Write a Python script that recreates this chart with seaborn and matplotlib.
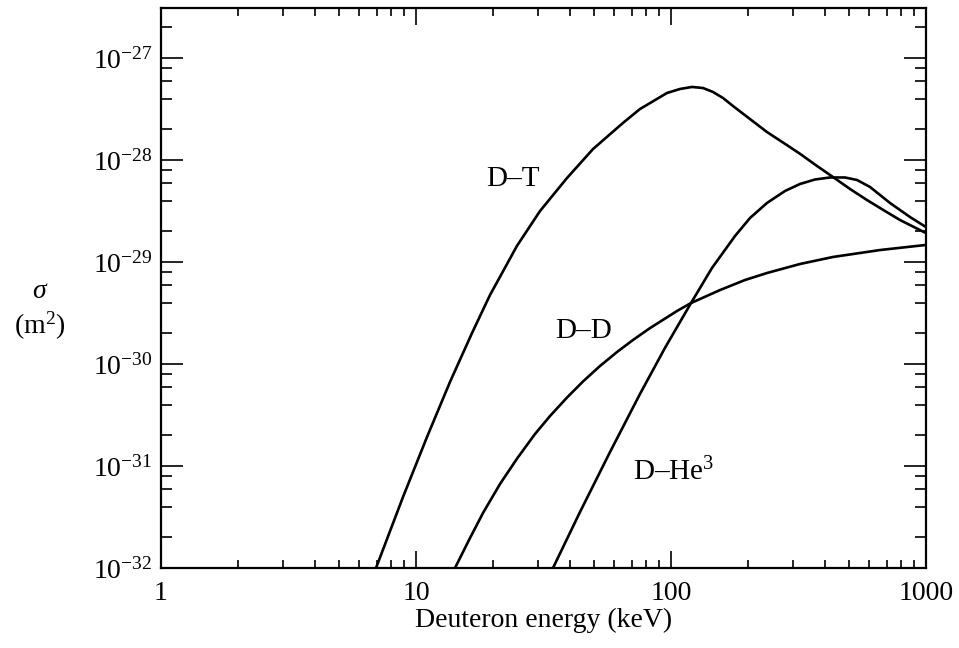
import matplotlib
matplotlib.use("Agg")
import matplotlib.pyplot as plt
import matplotlib.ticker as mticker
import numpy as np
import pandas as pd
import seaborn as sns

# ---- data (deuteron energy in keV, cross-section in m^2) ----
dt_energy = [6.969, 8.893, 11.04, 13.59, 16.58, 19.51, 24.89, 30.64, 39.10, 49.44,
             64.83, 75.56, 96.45, 108.5, 120.9, 133.5, 146.2, 160.0, 175.1, 204.1,
             237.9, 280.0, 320.6, 373.7, 431.8, 503.4, 586.9, 690.7, 790.8, 1000]
dt_sigma = [1.0e-32, 4.97e-32, 1.92e-31, 6.66e-31, 2.01e-30, 4.75e-30, 1.44e-29,
            3.16e-29, 6.66e-29, 1.28e-28, 2.31e-28, 3.16e-28, 4.54e-28, 4.97e-28,
            5.20e-28, 5.08e-28, 4.64e-28, 4.05e-28, 3.38e-28, 2.52e-28, 1.88e-28,
            1.44e-28, 1.15e-28, 8.74e-29, 6.81e-29, 5.20e-29, 4.05e-29, 3.16e-29,
            2.58e-29, 1.92e-29]

dd_energy = [14.22, 16.29, 18.31, 21.35, 24.89, 29.29, 33.54, 39.10, 45.17, 52.67,
             61.41, 70.96, 82.74, 105.6, 119.8, 155.7, 195.1, 237.9, 320.6, 431.8,
             660.0, 1000]
dd_sigma = [1.0e-32, 1.97e-32, 3.46e-32, 6.66e-32, 1.18e-31, 2.06e-31, 3.09e-31,
            4.69e-31, 6.74e-31, 9.56e-31, 1.31e-30, 1.72e-30, 2.25e-30, 3.31e-30,
            3.96e-30, 5.31e-30, 6.66e-30, 7.80e-30, 9.56e-30, 1.12e-29, 1.31e-29,
            1.47e-29]

dhe_energy = [34.45, 43.97, 57.65, 75.56, 94.73, 119.8, 144.8, 178.3, 204.1, 237.9,
              280.0, 320.6, 367.1, 420.3, 481.2, 536.3, 603.1, 722.5, 865.5, 1000]
dhe_sigma = [1.0e-32, 3.54e-32, 1.37e-31, 5.08e-31, 1.44e-30, 3.96e-30, 8.74e-30,
             1.80e-29, 2.70e-29, 3.79e-29, 4.97e-29, 5.82e-29, 6.44e-29, 6.74e-29,
             6.74e-29, 6.37e-29, 5.44e-29, 3.79e-29, 2.76e-29, 2.20e-29]

reactions = ["D–T", "D–D", "D–He³"]
x_ticks = [1, 10, 100, 1000]
x_tick_labels = ["1", "10", "100", "1000"]
y_ticks = [1e-32, 1e-31, 1e-30, 1e-29, 1e-28, 1e-27]
y_tick_labels = [r"$10^{-32}$", r"$10^{-31}$", r"$10^{-30}$", r"$10^{-29}$",
                 r"$10^{-28}$", r"$10^{-27}$"]

df = pd.concat([
    pd.DataFrame({"E": dt_energy, "sigma": dt_sigma, "reaction": reactions[0]}),
    pd.DataFrame({"E": dd_energy, "sigma": dd_sigma, "reaction": reactions[1]}),
    pd.DataFrame({"E": dhe_energy, "sigma": dhe_sigma, "reaction": reactions[2]}),
], ignore_index=True)

# ---- style ----
sns.set_theme(style="ticks")
plt.rcParams["font.family"] = ["Liberation Serif", "DejaVu Serif"]
plt.rcParams["mathtext.fontset"] = "custom"
plt.rcParams["mathtext.rm"] = "Liberation Serif"
plt.rcParams["mathtext.it"] = "Liberation Serif:italic"
plt.rcParams["mathtext.default"] = "regular"

fig = plt.figure(figsize=(9.59, 6.48), dpi=100)
ax = fig.add_axes([161 / 959, 1 - 568 / 648, 765 / 959, 560.5 / 648])
ax.set_xscale("log")
ax.set_yscale("log")

sns.lineplot(data=df, x="E", y="sigma", hue="reaction", units="reaction",
             estimator=None, sort=False, legend=False,
             palette={r: "black" for r in reactions}, linewidth=1.9, ax=ax)
for ln in ax.get_lines():
    ln.set_solid_joinstyle("round")
    ln.set_solid_capstyle("round")

ax.set_xlim(1, 1000)
ax.set_ylim(1e-32, 10 ** (-32 + 560.5 / 102))

ax.set_xticks(x_ticks)
ax.set_xticklabels(x_tick_labels)
ax.set_yticks(y_ticks)
ax.set_yticklabels(y_tick_labels)
ax.xaxis.set_minor_locator(mticker.LogLocator(base=10, subs=np.arange(2, 10), numticks=20))
ax.yaxis.set_minor_locator(mticker.LogLocator(base=10, subs=(2, 4, 6, 8), numticks=20))
ax.xaxis.set_minor_formatter(mticker.NullFormatter())
ax.yaxis.set_minor_formatter(mticker.NullFormatter())

for s in ax.spines.values():
    s.set_visible(True)
    s.set_linewidth(1.6)
    s.set_color("black")

ax.tick_params(axis="both", which="both", direction="in", top=True, right=True,
               colors="black", width=1.2, labelsize=20)
ax.tick_params(axis="y", which="major", length=16, pad=6)
ax.tick_params(axis="y", which="minor", length=8)
ax.tick_params(axis="x", which="major", length=12, pad=9)
ax.tick_params(axis="x", which="minor", length=5.5)

ax.set_xlabel("Deuteron energy (keV)", fontsize=20, color="black", labelpad=2)
ax.set_ylabel("")

fig.text(40 / 959, 1 - 292 / 648, r"$\sigma$", fontsize=20, ha="center", va="center",
         color="black", family="Liberation Serif", style="italic")
fig.text(40 / 959, 1 - 326 / 648, "(m$^2$)", fontsize=20, ha="center", va="center",
         color="black")

ax.text(24.0, 6.5e-29, "D–T", fontsize=21, ha="center", va="center", color="black")
ax.text(45.6, 2.1e-30, "D–D", fontsize=21, ha="center", va="center", color="black")
ax.text(71.0, 8.7e-32, "D–He$^3$", fontsize=21, ha="left", va="center", color="black")

fig.savefig("out.png", dpi=100, facecolor="white")
